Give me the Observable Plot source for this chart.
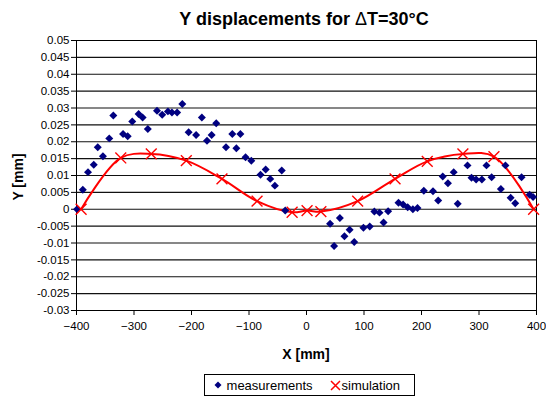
<!DOCTYPE html>
<html>
<head>
<meta charset="utf-8">
<script src="https://cdn.jsdelivr.net/npm/d3@7"></script>
<script src="https://cdn.jsdelivr.net/npm/@observablehq/plot@0.6"></script>
<style>
  body { margin: 0; background: #fff; font-family: "Liberation Sans", Arial, sans-serif; }
  #wrap { position: relative; width: 546px; height: 396px; overflow: hidden; }
  #chart { position: absolute; left: 0; top: 0; }
  .title { position: absolute; top: 8px; left: 74px; width: 460px; text-align: center; font-weight: bold; font-size: 18px; line-height: 22px; }
  .title .d { font-weight: normal; }
  .ylab { position: absolute; left: 18px; top: 177px; transform: translate(-50%, -50%) rotate(-90deg); font-weight: bold; font-size: 14px; white-space: nowrap; }
  .xlab { position: absolute; top: 344px; left: 76px; width: 460px; text-align: center; font-weight: bold; font-size: 14px; line-height: 20px; }
  .legend { position: absolute; left: 204px; top: 374px; width: 211px; height: 22px; border: 1px solid #000; box-sizing: border-box; font-size: 13px; display: flex; align-items: center; justify-content: center; gap: 4px; padding-right: 6px; }
  .legend span { display: inline-flex; align-items: center; }
</style>
</head>
<body>
<div id="wrap">
  <div id="chart"></div>
  <div class="title">Y displacements for <span class="d">Δ</span>T=30°C</div>
  <div class="ylab">Y [mm]</div>
  <div class="xlab">X [mm]</div>
  <div class="legend">
    <span><svg width="10" height="10"><path d="M5,1.5L8.5,5L5,8.5L1.5,5Z" fill="#000080"/></svg>&nbsp;measurements</span>
    <span style="margin-left:12px"><svg width="13" height="12"><path d="M2,2L11,11M11,2L2,11" stroke="red" stroke-width="1.5"/></svg>simulation</span>
  </div>
</div>
<script>
const measX = [-399,-389,-380,-370,-363,-354,-343,-336,-319,-311,-303,-292,-285,-276,-260,-251,-241,-234,-225,-216,
  -205,-192,-182,-173,-165,-157,-140,-129,-122,-115,-106,-96,-80,-71,-63,-55,-43,-37,
  41,48,58,66,75,83,99,110,118,127,134,142,160,168,176,185,193,
  204,220,229,237,246,256,263,280,287,295,305,313,322,338,346,355,363,374,388,394];
const measY = [0,0.0058,0.011,0.0132,0.0184,0.0157,0.021,0.0278,0.0223,0.0216,0.026,0.0282,0.0272,0.0238,0.0292,0.028,0.029,0.0287,0.0287,0.0312,
  0.0228,0.022,0.0272,0.0203,0.022,0.0255,0.0184,0.0223,0.0181,0.0223,0.0154,0.0144,0.0102,0.0118,0.009,0.007,0.0115,-0.0004,
  -0.0043,-0.0109,-0.0026,-0.008,-0.0061,-0.0097,-0.0055,-0.0051,-0.0007,-0.001,-0.0039,-0.0006,0.0019,0.0014,0.0006,0,0.0004,
  0.0055,0.0053,0.0026,0.0097,0.0077,0.011,0.0016,0.013,0.0093,0.0088,0.0088,0.013,0.0095,0.006,0.013,0.0034,0.0018,0.0095,0.0043,0.0036];
const simX = [-392,-323,-270,-209,-147,-86,-25,1,25,89,154,210,272,326,395];
const simY = [0,0.0152,0.0164,0.0144,0.009,0.0024,-0.0009,-0.0004,-0.0007,0.0024,0.009,0.0142,0.0164,0.0156,0];
const xTicks = [-400,-300,-200,-100,0,100,200,300,400];
const yTicks = [0.05,0.045,0.04,0.035,0.03,0.025,0.02,0.015,0.01,0.005,0,-0.005,-0.01,-0.015,-0.02,-0.025,-0.03];

const meas = measX.map((x, i) => ({x, y: measY[i]}));
const sim = simX.map((x, i) => ({x, y: simY[i]}));
const fmt = d => String(+d.toFixed(3));

const chart = Plot.plot({
  width: 546, height: 396,
  marginTop: 40, marginBottom: 86, marginLeft: 76, marginRight: 10,
  style: {fontFamily: "Liberation Sans, Arial, sans-serif", fontSize: "11.5px", color: "#000", background: "#fff"},
  x: {domain: [-400, 400]},
  y: {domain: [-0.03, 0.05]},
  marks: [
    Plot.gridY(yTicks, {stroke: "#111", strokeOpacity: 1, strokeWidth: 1.2}),
    Plot.frame({stroke: "#000"}),
    Plot.axisY({ticks: yTicks, tickFormat: fmt, tickSize: 5, tickPadding: 2, label: null}),
    Plot.axisX({ticks: xTicks, tickSize: 5, tickPadding: 6, label: null}),
    Plot.line(sim, {x: "x", y: "y", curve: "catmull-rom", stroke: "red", strokeWidth: 2}),
    Plot.dot(meas, {x: "x", y: "y", symbol: "diamond2", fill: "#000080", stroke: "none", r: 3.6}),
    Plot.dot(sim, {x: "x", y: "y", symbol: "times", stroke: "red", strokeWidth: 1.4, r: 5})
  ]
});
document.getElementById("chart").append(chart);
</script>
</body>
</html>
